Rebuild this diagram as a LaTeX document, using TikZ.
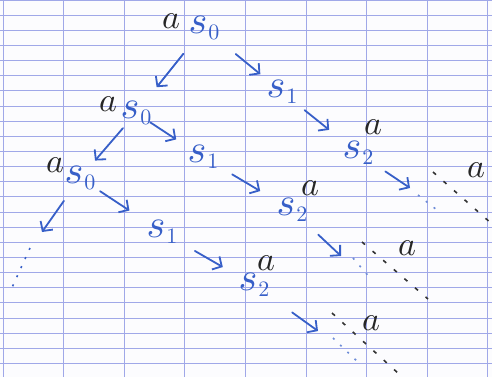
\documentclass[tikz,border=0pt]{standalone}
\usepackage{graphicx}
\usetikzlibrary{arrows.meta}
\definecolor{gridc}{RGB}{160,168,232}
\definecolor{ink}{RGB}{55,95,200}
\definecolor{inklight}{RGB}{110,140,215}
\newcommand{\stt}[1]{\scalebox{4}{$s$}\kern1pt\raisebox{-6pt}{\scalebox{2.2}{#1}}}
\newcommand{\lba}{\scalebox{3.4}{$a$}}
\begin{document}
\begin{tikzpicture}[x=1pt,y=-1pt,
  st/.style={text=ink,inner sep=0pt},
  lbl/.style={text=black!85,inner sep=0pt},
  arr/.style={draw=ink,line width=1.8pt,line cap=round,-{Straight Barb[length=7pt,width=15pt,line width=1.8pt]}},
  cont/.style={draw=black!80,line width=1.6pt,dash pattern=on 4pt off 10pt},
  bdot/.style={draw=inklight,line width=1.6pt,dash pattern=on 2pt off 8pt}]
\useasboundingbox (0,0) rectangle (492,377);
\fill[white!97!gridc] (0,0) rectangle (492,377);
% graph paper
\foreach \k in {0,...,24} \draw[gridc,line width=0.8pt] (0,15.14*\k) -- (492,15.14*\k);
\foreach \x in {3,63.6,124.2,184.8,245.4,306,366.6,427.2,487.8} \draw[gridc,line width=1pt] (\x,0) -- (\x,377);
% level 1
\node[lbl] (a1) at (171,21) {\lba};
\node[st] (s0) at (204,28) {\stt{0}};
\node[st] (s01) at (282,92) {\stt{1}};
\node[lbl] (a12) at (373,127) {\lba};
\node[st] (s02) at (358,153) {\stt{2}};
\coordinate (e1) at (410,188);
\node[lbl] (a13) at (476,170) {\lba};
\coordinate (d1a) at (433,172); \coordinate (d1b) at (492,224);
\coordinate (b1a) at (418,195); \coordinate (b1b) at (437,210);
% level 2
\node[lbl] (a2) at (108,104) {\lba};
\node[st] (s00) at (136,113) {\stt{0}};
\node[st] (s001) at (203,157) {\stt{1}};
\node[lbl] (a22) at (310,188) {\lba};
\node[st] (s002) at (292,210) {\stt{2}};
\coordinate (e2) at (341,256);
\node[lbl] (a23) at (407,248) {\lba};
\coordinate (d2a) at (362,242); \coordinate (d2b) at (428,299);
\coordinate (b2a) at (353,258); \coordinate (b2b) at (371,279);
% level 3
\node[lbl] (a3) at (55,165) {\lba};
\node[st] (s000) at (80,178) {\stt{0}};
\coordinate (e3) at (42,232);
\coordinate (b4a) at (30,248); \coordinate (b4b) at (10,292);
\node[st] (s0001) at (162,232) {\stt{1}};
\node[lbl] (a32) at (266,263) {\lba};
\node[st] (s0002) at (254,285) {\stt{2}};
\coordinate (e4) at (318,331);
\node[lbl] (a33) at (371,323) {\lba};
\coordinate (d3a) at (332,313); \coordinate (d3b) at (399,374);
\coordinate (b3a) at (333,338); \coordinate (b3b) at (359,363);
% arrows
\draw[arr,shorten <=33pt,shorten >=33pt] (s0.center) -- (s00.center);
\draw[arr,shorten <=41pt,shorten >=28pt] (s0.center) -- (s01.center);
\draw[arr,shorten <=29pt,shorten >=37pt] (s01.center) -- (s02.center);
\draw[arr,shorten <=33pt] (s02.center) -- (e1);
\draw[arr,shorten <=20pt,shorten >=23pt] (s00.center) -- (s000.center);
\draw[arr,shorten <=17pt,shorten >=32pt] (s00.center) -- (s001.center);
\draw[arr,shorten <=34pt,shorten >=37pt] (s001.center) -- (s002.center);
\draw[arr,shorten <=36pt] (s002.center) -- (e2);
\draw[arr,shorten <=28pt] (s000.center) -- (e3);
\draw[arr,shorten <=24pt,shorten >=39pt] (s000.center) -- (s0001.center);
\draw[arr,shorten <=38pt,shorten >=36pt] (s0001.center) -- (s0002.center);
\draw[arr,shorten <=47pt] (s0002.center) -- (e4);
% continuations
\draw[cont] (d1a) -- (d1b);
\draw[cont] (d2a) -- (d2b);
\draw[cont] (d3a) -- (d3b);
\draw[bdot] (b1a) -- (b1b);
\draw[bdot] (b2a) -- (b2b);
\draw[bdot] (b3a) -- (b3b);
\draw[bdot,draw=ink] (b4a) -- (b4b);
\end{tikzpicture}
\end{document}
